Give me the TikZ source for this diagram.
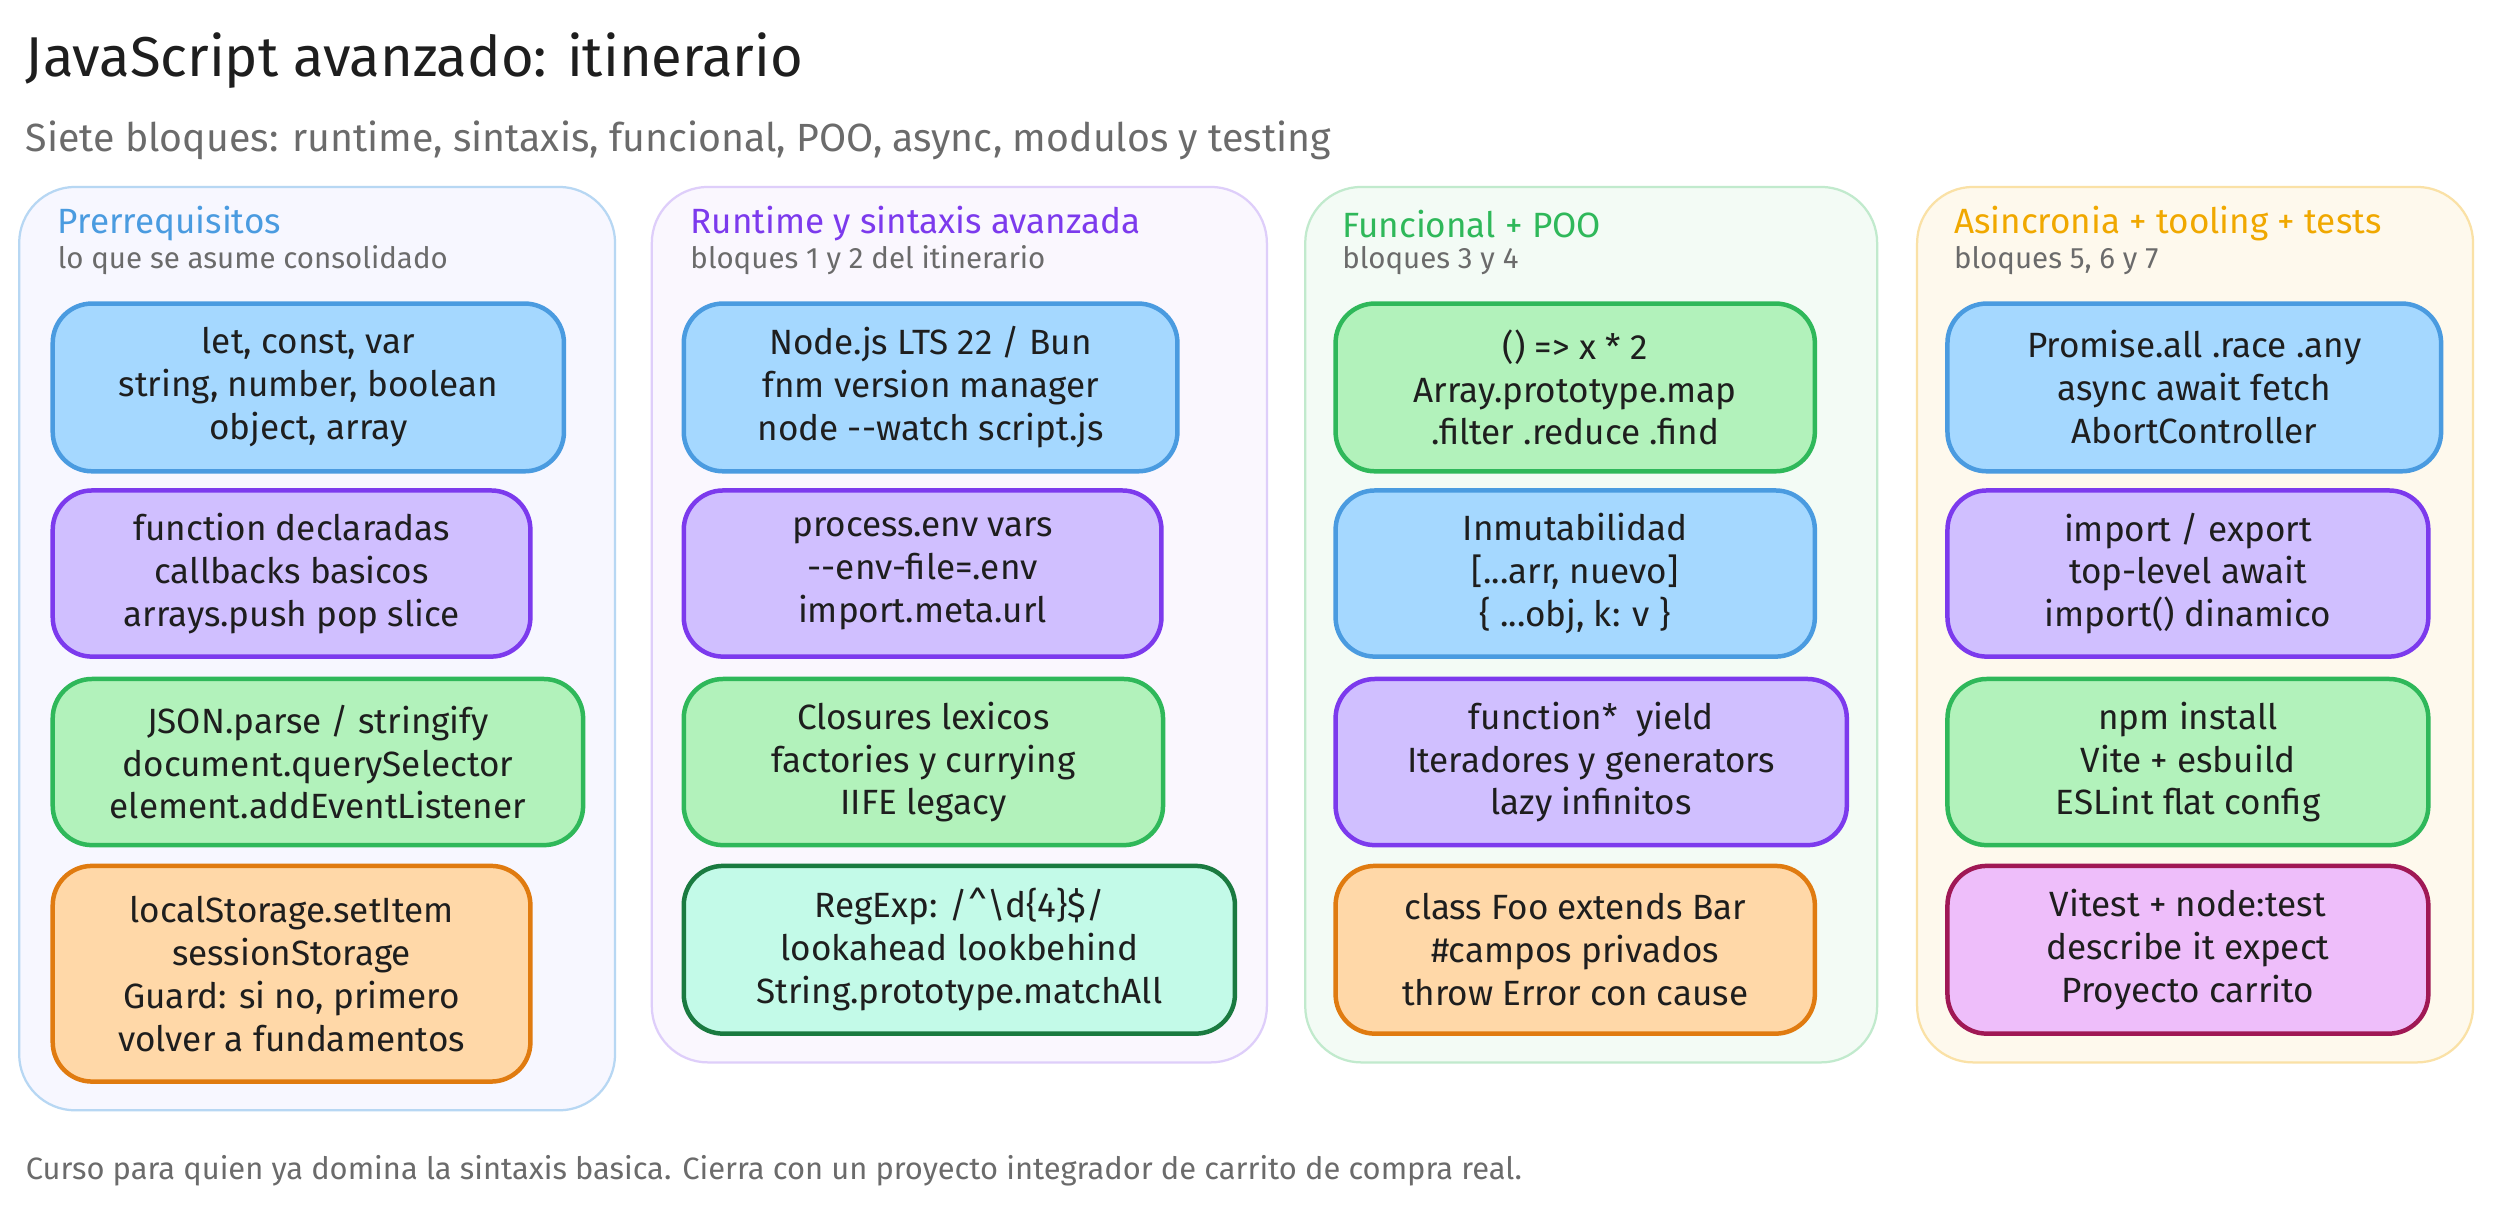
\documentclass[tikz,border=0pt]{standalone}
\usepackage{fontspec}
\setmainfont{Fira Sans}
\definecolor{bluef}{HTML}{A5D8FF}\definecolor{blued}{HTML}{4A9BE0}
\definecolor{purf}{HTML}{D0BFFF}\definecolor{purd}{HTML}{7C3AED}
\definecolor{grnf}{HTML}{B2F2BB}\definecolor{grnd}{HTML}{2FB85A}
\definecolor{orf}{HTML}{FFD8A8}\definecolor{ord}{HTML}{E07B10}
\definecolor{teaf}{HTML}{C3FAE8}\definecolor{tead}{HTML}{1A7A40}
\definecolor{magf}{HTML}{EEBEFA}\definecolor{magd}{HTML}{A01855}
\definecolor{yeld}{HTML}{F0A800}
\definecolor{inkc}{HTML}{1E1E1E}\definecolor{greyc}{HTML}{6B6B6B}
\tikzset{
  card/.style={draw, line width=1.6pt, rounded corners=14pt, align=center,
    text=inkc, font=\fontsize{12.5}{15.3}\selectfont, inner sep=0pt},
  cblue/.style={card, fill=bluef, draw=blued},
  cpur/.style={card, fill=purf, draw=purd},
  cgrn/.style={card, fill=grnf, draw=grnd},
  cor/.style={card, fill=orf, draw=ord},
  ctea/.style={card, fill=teaf, draw=tead},
  cmag/.style={card, fill=magf, draw=magd},
  lane/.style={line width=0.8pt, rounded corners=20pt},
  lanehead/.style={anchor=west, font=\fontsize{12.5}{15}\selectfont},
  lanesub/.style={anchor=west, text=greyc, font=\fontsize{10.5}{12}\selectfont}
}
% card: name, x1, y1, x2, y2, style, text
\newcommand{\card}[7]{\node[#6, minimum width={(#4-#2)*0.02cm}, minimum height={(#5-#3)*0.02cm}] (#1) at ({(#2+#4)/2},{(#3+#5)/2}) {#7};}
\begin{document}
\begin{tikzpicture}[x=0.02cm,y=-0.02cm]
\useasboundingbox (0,0) rectangle (1568,758);
\fill[white] (0,0) rectangle (1568,758);
\node[anchor=west, text=inkc, font=\fontsize{20}{24}\selectfont] (title) at (10,38) {JavaScript avanzado: itinerario};
\node[anchor=west, text=greyc, font=\fontsize{14}{17}\selectfont] (subtitle) at (10,88) {Siete bloques: runtime, sintaxis, funcional, POO, async, modulos y testing};

% lanes
\filldraw[lane, fill=blue!3, draw=blued!40] (12,117) rectangle (385,695);
\filldraw[lane, fill=purd!4, draw=purd!25] (408,117) rectangle (793,665);
\filldraw[lane, fill=grnd!6, draw=grnd!30] (817,117) rectangle (1175,665);
\filldraw[lane, fill=yeld!7, draw=yeld!35] (1200,117) rectangle (1548,665);

\node[lanehead, text=blued] (h1) at (30,140) {Prerrequisitos};
\node[lanesub] (s1) at (30,163) {lo que se asume consolidado};
\node[lanehead, text=purd] (h2) at (426,140) {Runtime y sintaxis avanzada};
\node[lanesub] (s2) at (426,163) {bloques 1 y 2 del itinerario};
\node[lanehead, text=grnd] (h3) at (834,140) {Funcional + POO};
\node[lanesub] (s3) at (834,163) {bloques 3 y 4};
\node[lanehead, text=yeld] (h4) at (1217,140) {Asincronia + tooling + tests};
\node[lanesub] (s4) at (1217,163) {bloques 5, 6 y 7};

% prerrequisitos
\card{p1}{33}{190}{353}{295}{cblue}{let, const, var\\string, number, boolean\\object, array}
\card{p2}{33}{307}{332}{411}{cpur}{function declaradas\\callbacks basicos\\arrays.push pop slice}
\card{p3}{33}{425}{365}{529}{cgrn}{JSON.parse / stringify\\document.querySelector\\element.addEventListener}
\card{p4}{33}{542}{332}{677}{cor}{localStorage.setItem\\sessionStorage\\Guard: si no, primero\\volver a fundamentos}

% runtime
\card{r1}{428}{190}{737}{295}{cblue}{Node.js LTS 22 / Bun\\fnm version manager\\node -{}-watch script.js}
\card{r2}{428}{307}{727}{411}{cpur}{process.env vars\\-{}-env-file=.env\\import.meta.url}
\card{r3}{428}{425}{728}{529}{cgrn}{Closures lexicos\\factories y currying\\IIFE legacy}
\card{r4}{428}{542}{773}{647}{ctea}{RegExp: /\textasciicircum\textbackslash d\{4\}\$/\\lookahead lookbehind\\String.prototype.matchAll}

% funcional
\card{f1}{836}{190}{1136}{295}{cgrn}{() => x * 2\\Array.prototype.map\\.filter .reduce .find}
\card{f2}{836}{307}{1136}{411}{cblue}{Inmutabilidad\\{[}...arr, nuevo{]}\\\{ ...obj, k: v \}}
\card{f3}{836}{425}{1156}{529}{cpur}{function*\ \ yield\\Iteradores y generators\\lazy infinitos}
\card{f4}{836}{542}{1136}{647}{cor}{class Foo extends Bar\\\#campos privados\\throw Error con cause}

% async
\card{a1}{1219}{190}{1528}{295}{cblue}{Promise.all .race .any\\async await fetch\\AbortController}
\card{a2}{1219}{307}{1520}{411}{cpur}{import / export\\top-level await\\import() dinamico}
\card{a3}{1219}{425}{1520}{529}{cgrn}{npm install\\Vite + esbuild\\ESLint flat config}
\card{a4}{1219}{542}{1520}{647}{cmag}{Vitest + node:test\\describe it expect\\Proyecto carrito}

\node[anchor=west, text=greyc, font=\fontsize{11}{13}\selectfont] (footer) at (10,733) {Curso para quien ya domina la sintaxis basica. Cierra con un proyecto integrador de carrito de compra real.};
\end{tikzpicture}
\end{document}
